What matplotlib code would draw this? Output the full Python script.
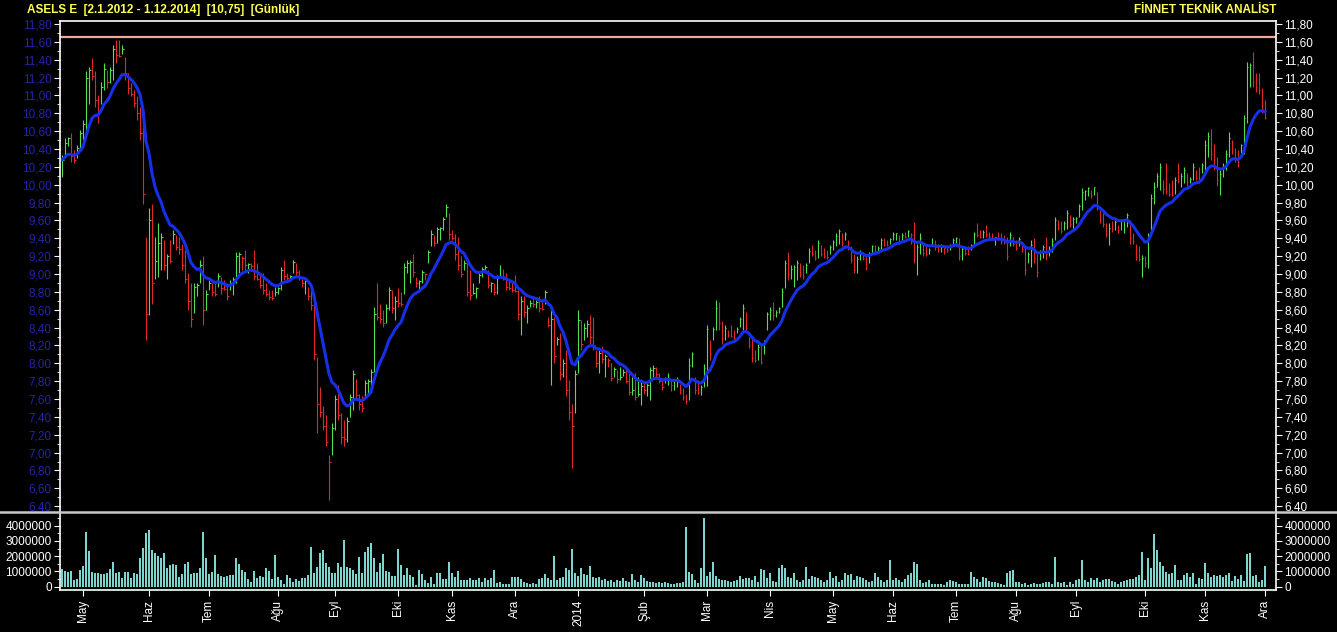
import numpy as np
import pandas as pd
import matplotlib
matplotlib.use('Agg')
import matplotlib.pyplot as plt
from matplotlib.lines import Line2D
from matplotlib.ticker import MultipleLocator, FuncFormatter, FixedLocator

plt.rcParams['font.family'] = ['Liberation Sans', 'DejaVu Sans']

# daily bars, ASELS E, late Apr 2013 - 1 Dec 2014
closes = [
    10.28, 10.47, 10.52, 10.32, 10.28, 10.41, 10.58, 10.68, 11.20, 11.28,
    11.22, 10.95, 10.80, 11.10, 11.30, 11.15, 11.28, 11.52, 11.45, 11.44,
    11.52, 11.25, 11.08, 11.02, 10.92, 10.80, 10.58, 9.90, 8.55, 9.60,
    8.90, 9.15, 9.35, 9.42, 9.10, 9.20, 9.15, 9.45, 9.30, 9.28,
    9.10, 8.95, 8.70, 8.50, 8.85, 8.88, 9.10, 8.60, 8.78, 8.90,
    8.80, 8.78, 8.98, 8.84, 8.83, 8.75, 8.90, 8.95, 9.20, 9.22,
    9.18, 9.10, 9.11, 9.09, 8.98, 8.95, 8.88, 8.82, 8.78, 8.74,
    8.73, 8.80, 8.84, 9.05, 8.98, 8.96, 8.98, 9.14, 9.02, 8.96,
    8.90, 8.92, 8.75, 8.65, 8.10, 7.55, 7.45, 7.30, 7.12, 6.90,
    7.28, 7.60, 7.42, 7.18, 7.15, 7.35, 7.62, 7.88, 7.65, 7.55,
    7.50, 7.78, 7.80, 7.90, 8.55, 8.52, 8.50, 8.45, 8.62, 8.82,
    8.62, 8.70, 8.68, 8.66, 9.08, 9.12, 9.14, 9.02, 8.90, 8.92,
    9.02, 9.00, 9.25, 9.45, 9.35, 9.50, 9.52, 9.62, 9.75, 9.45,
    9.40, 9.22, 9.10, 9.00, 9.12, 8.80, 8.76, 8.79, 8.84, 8.99,
    9.06, 9.08, 8.88, 8.90, 8.80, 8.96, 8.98, 8.95, 8.86, 8.84,
    8.82, 8.81, 8.55, 8.70, 8.58, 8.62, 8.68, 8.66, 8.69, 8.62,
    8.61, 8.80, 8.43, 8.50, 8.08, 8.27, 7.88, 8.00, 7.70, 7.45,
    7.30, 7.88, 8.48, 8.22, 8.40, 8.44, 8.30, 8.20, 8.00, 8.12,
    8.05, 8.08, 8.04, 7.84, 7.94, 7.82, 7.85, 7.90, 7.80, 7.68,
    7.70, 7.62, 7.66, 7.75, 7.70, 7.76, 7.92, 7.95, 7.88, 7.80,
    7.74, 7.82, 7.84, 7.76, 7.80, 7.82, 7.70, 7.62, 7.58, 7.98,
    8.10, 7.70, 7.68, 7.74, 7.95, 8.38, 8.10, 8.38, 8.62, 8.45,
    8.28, 8.40, 8.32, 8.31, 8.28, 8.39, 8.50, 8.62, 8.40, 8.20,
    8.06, 8.04, 8.18, 8.02, 8.22, 8.55, 8.60, 8.54, 8.58, 8.62,
    8.80, 9.12, 9.00, 9.06, 9.08, 9.12, 9.00, 8.98, 9.10, 9.26,
    9.22, 9.18, 9.35, 9.23, 9.20, 9.19, 9.30, 9.36, 9.43, 9.48,
    9.35, 9.45, 9.30, 9.16, 9.05, 9.17, 9.25, 9.18, 9.08, 9.22,
    9.31, 9.26, 9.29, 9.38, 9.33, 9.32, 9.39, 9.45, 9.46, 9.37,
    9.44, 9.41, 9.48, 9.44, 9.20, 9.30, 9.40, 9.24, 9.22, 9.27,
    9.33, 9.30, 9.28, 9.32, 9.29, 9.27, 9.32, 9.38, 9.40, 9.20,
    9.28, 9.24, 9.23, 9.32, 9.45, 9.44, 9.42, 9.47, 9.45, 9.42,
    9.40, 9.41, 9.40, 9.37, 9.36, 9.20, 9.44, 9.34, 9.29, 9.39,
    9.28, 9.05, 9.22, 9.32, 9.18, 9.02, 9.25, 9.30, 9.22, 9.28,
    9.37, 9.60, 9.52, 9.48, 9.57, 9.68, 9.56, 9.62, 9.63, 9.76,
    9.92, 9.93, 9.96, 9.88, 9.97, 9.76, 9.60, 9.56, 9.45, 9.52,
    9.50, 9.58, 9.49, 9.59, 9.60, 9.66, 9.40, 9.37, 9.19, 9.17,
    9.18, 9.12, 9.42, 9.85, 9.98, 10.10, 10.20, 9.95, 9.93, 9.90,
    9.89, 10.05, 10.04, 10.10, 10.16, 10.03, 10.07, 10.20, 10.08, 10.06,
    10.22, 10.45, 10.55, 10.35, 10.22, 10.05, 10.12, 10.20, 10.35, 10.52,
    10.48, 10.30, 10.25, 10.44, 10.75, 11.32, 11.34, 11.15, 11.10, 11.06,
    10.85, 10.75,
]

highs = [
    10.33, 10.52, 10.54, 10.58, 10.39, 10.45, 10.61, 10.72, 11.27, 11.32,
    11.42, 11.27, 11.00, 11.15, 11.36, 11.29, 11.32, 11.57, 11.62, 11.62,
    11.57, 11.43, 11.25, 11.14, 11.06, 10.99, 10.87, 10.69, 9.42, 9.74,
    9.79, 9.42, 9.57, 9.46, 9.38, 9.23, 9.38, 9.49, 9.44, 9.42,
    9.34, 9.27, 9.01, 8.90, 8.90, 8.90, 9.16, 9.20, 8.82, 8.93,
    8.90, 8.90, 9.01, 8.97, 8.93, 8.90, 8.93, 8.97, 9.25, 9.25,
    9.20, 9.27, 9.12, 9.12, 9.27, 9.12, 9.01, 9.01, 8.90, 8.82,
    8.82, 8.86, 8.85, 9.08, 9.16, 9.01, 8.99, 9.16, 9.12, 9.05,
    8.95, 8.93, 8.86, 8.82, 8.67, 8.07, 7.74, 7.52, 7.42, 6.97,
    7.33, 7.65, 7.76, 7.44, 7.37, 7.40, 7.66, 7.93, 7.83, 7.66,
    7.63, 7.81, 7.83, 7.94, 8.63, 8.90, 8.67, 8.60, 8.67, 8.86,
    8.82, 8.75, 8.84, 8.80, 9.12, 9.16, 9.16, 9.23, 8.97, 8.93,
    9.05, 9.01, 9.27, 9.49, 9.44, 9.53, 9.53, 9.64, 9.79, 9.68,
    9.49, 9.45, 9.42, 9.20, 9.16, 9.12, 9.05, 8.90, 8.86, 9.01,
    9.08, 9.10, 9.05, 8.91, 8.90, 8.99, 9.10, 9.06, 9.01, 8.93,
    8.91, 8.99, 8.82, 8.75, 8.75, 8.65, 8.71, 8.75, 8.71, 8.75,
    8.71, 8.82, 8.52, 8.63, 8.52, 8.30, 8.34, 8.05, 8.15, 7.81,
    7.55, 7.93, 8.60, 8.48, 8.45, 8.48, 8.54, 8.52, 8.15, 8.15,
    8.19, 8.10, 8.06, 8.00, 7.96, 7.93, 7.96, 7.94, 7.96, 7.89,
    7.85, 7.89, 7.85, 7.81, 7.79, 7.78, 7.96, 7.98, 7.96, 7.89,
    7.81, 7.85, 7.89, 7.83, 7.83, 7.85, 7.77, 7.72, 7.66, 8.06,
    8.13, 7.85, 7.81, 7.76, 7.99, 8.43, 8.26, 8.41, 8.71, 8.69,
    8.47, 8.43, 8.37, 8.43, 8.37, 8.41, 8.52, 8.67, 8.58, 8.30,
    8.28, 8.15, 8.22, 8.20, 8.26, 8.58, 8.63, 8.69, 8.60, 8.63,
    8.84, 9.16, 9.25, 9.10, 9.10, 9.16, 9.12, 9.10, 9.12, 9.29,
    9.33, 9.27, 9.38, 9.33, 9.29, 9.27, 9.33, 9.38, 9.46, 9.51,
    9.46, 9.47, 9.38, 9.31, 9.23, 9.20, 9.27, 9.25, 9.20, 9.25,
    9.33, 9.33, 9.31, 9.40, 9.40, 9.38, 9.40, 9.47, 9.46, 9.44,
    9.46, 9.47, 9.49, 9.46, 9.58, 9.34, 9.46, 9.34, 9.34, 9.29,
    9.40, 9.38, 9.34, 9.34, 9.31, 9.33, 9.34, 9.40, 9.42, 9.40,
    9.31, 9.29, 9.31, 9.34, 9.47, 9.57, 9.49, 9.49, 9.55, 9.47,
    9.46, 9.42, 9.47, 9.46, 9.44, 9.42, 9.47, 9.42, 9.38, 9.42,
    9.34, 9.31, 9.25, 9.38, 9.40, 9.23, 9.27, 9.33, 9.42, 9.31,
    9.40, 9.64, 9.61, 9.59, 9.59, 9.72, 9.66, 9.64, 9.64, 9.79,
    9.96, 9.94, 9.98, 9.94, 9.98, 9.92, 9.72, 9.68, 9.57, 9.57,
    9.59, 9.61, 9.55, 9.61, 9.61, 9.68, 9.61, 9.46, 9.34, 9.31,
    9.21, 9.20, 9.46, 9.90, 10.03, 10.13, 10.24, 10.05, 10.24, 10.02,
    10.05, 10.09, 10.24, 10.13, 10.20, 10.13, 10.09, 10.24, 10.17, 10.20,
    10.24, 10.50, 10.59, 10.63, 10.46, 10.31, 10.17, 10.24, 10.39, 10.59,
    10.50, 10.41, 10.39, 10.46, 10.78, 11.38, 11.36, 11.49, 11.25, 11.25,
    11.08, 10.95,
]

lows = [
    10.09, 10.33, 10.43, 10.26, 10.24, 10.30, 10.41, 10.50, 10.58, 10.91,
    11.17, 10.87, 10.69, 10.91, 11.06, 11.08, 11.14, 11.17, 11.36, 11.43,
    11.47, 11.17, 11.02, 10.99, 10.87, 10.73, 10.50, 9.79, 8.26, 8.54,
    8.67, 8.95, 8.97, 9.05, 9.05, 8.95, 9.12, 9.34, 9.27, 9.22,
    9.05, 8.90, 8.60, 8.41, 8.56, 8.75, 8.90, 8.43, 8.60, 8.82,
    8.75, 8.75, 8.86, 8.78, 8.82, 8.71, 8.82, 8.77, 8.90, 9.01,
    9.05, 9.05, 9.01, 9.03, 8.93, 8.93, 8.84, 8.78, 8.75, 8.71,
    8.71, 8.75, 8.78, 8.82, 8.93, 8.93, 8.93, 9.01, 8.97, 8.93,
    8.86, 8.78, 8.71, 8.60, 8.04, 7.22, 7.40, 7.25, 7.07, 6.47,
    6.97, 7.25, 7.37, 7.10, 7.07, 7.12, 7.40, 7.48, 7.59, 7.48,
    7.46, 7.63, 7.66, 7.70, 7.90, 8.49, 8.45, 8.41, 8.45, 8.60,
    8.56, 8.49, 8.63, 8.64, 8.78, 9.01, 8.90, 8.97, 8.86, 8.82,
    8.90, 8.93, 9.12, 9.31, 9.31, 9.35, 9.38, 9.49, 9.64, 9.38,
    9.38, 9.16, 9.05, 8.97, 9.05, 8.75, 8.71, 8.78, 8.73, 8.90,
    8.97, 9.01, 8.84, 8.80, 8.77, 8.78, 8.97, 8.93, 8.82, 8.82,
    8.80, 8.80, 8.49, 8.32, 8.52, 8.45, 8.63, 8.63, 8.62, 8.58,
    8.60, 8.67, 8.41, 7.76, 8.00, 8.21, 7.81, 7.85, 7.63, 7.37,
    6.83, 7.44, 7.89, 8.15, 8.26, 8.30, 8.22, 8.15, 7.96, 7.89,
    8.00, 7.85, 7.96, 7.80, 7.85, 7.78, 7.81, 7.86, 7.78, 7.64,
    7.64, 7.59, 7.63, 7.53, 7.66, 7.63, 7.59, 7.85, 7.85, 7.78,
    7.70, 7.78, 7.76, 7.69, 7.70, 7.74, 7.66, 7.59, 7.55, 7.59,
    7.96, 7.66, 7.66, 7.64, 7.74, 7.75, 8.04, 8.26, 8.37, 8.37,
    8.22, 8.26, 8.30, 8.29, 8.26, 8.34, 8.41, 8.37, 8.36, 8.17,
    8.02, 8.02, 8.04, 7.99, 8.11, 8.37, 8.49, 8.49, 8.52, 8.56,
    8.63, 8.84, 8.93, 8.95, 8.86, 8.93, 8.97, 8.95, 9.01, 9.12,
    9.20, 9.16, 9.18, 9.20, 9.18, 9.17, 9.23, 9.27, 9.31, 9.34,
    9.31, 9.38, 9.27, 9.12, 9.01, 9.01, 9.16, 9.16, 9.05, 9.12,
    9.23, 9.23, 9.25, 9.27, 9.31, 9.31, 9.34, 9.38, 9.38, 9.34,
    9.38, 9.40, 9.42, 9.34, 9.12, 8.99, 9.23, 9.20, 9.20, 9.23,
    9.31, 9.27, 9.25, 9.25, 9.23, 9.25, 9.27, 9.31, 9.31, 9.16,
    9.16, 9.21, 9.21, 9.27, 9.34, 9.42, 9.40, 9.40, 9.42, 9.40,
    9.38, 9.33, 9.38, 9.34, 9.34, 9.16, 9.31, 9.31, 9.27, 9.31,
    9.25, 8.99, 9.12, 9.08, 9.12, 8.97, 9.16, 9.18, 9.16, 9.20,
    9.25, 9.38, 9.49, 9.46, 9.49, 9.51, 9.53, 9.49, 9.57, 9.64,
    9.72, 9.83, 9.87, 9.85, 9.88, 9.72, 9.57, 9.53, 9.42, 9.33,
    9.47, 9.49, 9.46, 9.49, 9.46, 9.53, 9.34, 9.34, 9.16, 9.15,
    8.97, 9.08, 9.07, 9.49, 9.79, 9.98, 9.94, 9.90, 9.90, 9.87,
    9.87, 9.90, 10.02, 9.98, 10.02, 9.99, 10.02, 10.05, 10.05, 10.03,
    10.13, 10.17, 10.31, 10.28, 10.17, 9.99, 9.89, 10.09, 10.17, 10.31,
    10.35, 10.26, 10.20, 10.33, 10.35, 10.69, 11.10, 11.10, 11.04, 11.02,
    10.80, 10.74,
]

# volume in millions of shares
volumes_m = [
    1.16, 1.03, 0.98, 1.03, 0.44, 0.50, 1.09, 1.36, 3.61, 2.34,
    0.98, 0.92, 0.87, 0.83, 0.81, 0.87, 1.16, 1.60, 0.92, 0.98,
    0.57, 0.98, 0.98, 0.59, 0.87, 0.83, 1.90, 2.56, 3.54, 3.72,
    2.40, 2.19, 2.01, 1.90, 2.19, 1.25, 1.42, 1.49, 1.42, 0.66,
    0.83, 1.46, 1.64, 0.83, 0.87, 0.87, 1.25, 3.61, 1.90, 0.83,
    0.98, 2.08, 0.81, 0.70, 0.66, 0.72, 0.77, 0.77, 1.90, 1.49,
    1.09, 0.98, 0.50, 0.33, 1.03, 0.59, 0.68, 0.66, 1.20, 1.03,
    0.50, 2.08, 0.66, 0.44, 0.17, 0.77, 0.59, 0.33, 0.50, 0.39,
    0.59, 0.55, 0.77, 2.62, 0.87, 1.31, 2.19, 2.40, 1.53, 1.31,
    0.87, 0.87, 1.53, 1.31, 3.06, 1.31, 1.20, 1.09, 0.83, 1.97,
    0.87, 2.30, 2.62, 2.84, 1.86, 0.98, 1.53, 2.12, 1.03, 0.98,
    0.72, 0.72, 2.47, 1.42, 0.77, 1.20, 0.77, 0.66, 0.11, 1.09,
    0.83, 0.44, 0.22, 0.66, 0.15, 0.87, 0.87, 0.50, 0.50, 1.64,
    0.87, 0.66, 1.03, 0.44, 0.44, 0.44, 0.55, 0.44, 0.44, 0.55,
    0.33, 0.55, 0.44, 0.59, 1.09, 0.22, 0.28, 0.15, 0.15, 0.15,
    0.66, 0.66, 0.66, 0.50, 0.33, 0.22, 0.17, 0.26, 0.15, 0.50,
    0.55, 0.81, 0.55, 0.44, 2.03, 0.44, 0.59, 0.66, 1.25, 1.09,
    2.45, 0.87, 0.72, 1.25, 0.81, 0.77, 1.38, 0.66, 0.59, 0.61,
    0.44, 0.50, 0.39, 0.44, 0.33, 0.44, 0.37, 0.59, 0.37, 0.33,
    0.81, 0.44, 0.28, 0.77, 0.59, 0.37, 0.33, 0.33, 0.22, 0.33,
    0.22, 0.30,
    0.22, 0.17, 0.20, 0.26, 0.26, 0.33, 3.93, 0.98, 0.81, 0.44,
    0.26, 1.25, 4.48, 0.72, 0.98, 1.64, 0.72, 0.50, 0.44, 0.44,
    0.37, 0.28, 0.39, 0.44, 0.72, 0.50, 0.59, 0.59, 0.44, 0.72,
    0.33, 1.16, 1.09, 0.59, 0.87, 0.37, 0.33, 1.20, 1.42, 1.20,
    0.66, 0.55, 0.87, 0.44, 0.33, 0.44, 1.31, 0.50, 0.72, 0.66,
    0.59, 0.44, 0.33, 0.44, 0.98, 0.59, 0.72, 0.33, 0.44, 0.87,
    0.77, 0.83, 0.44, 0.72, 0.66, 0.59, 0.44, 0.28, 0.37, 0.87,
    0.66, 0.44, 0.33, 0.44, 1.75, 0.44, 0.59, 0.44, 0.33, 0.50,
    0.77, 0.87, 1.64, 1.46, 0.44, 0.22, 0.33, 0.44, 0.15, 0.17,
    0.15, 0.17, 0.11, 0.28, 0.42, 0.37, 0.28, 0.15, 0.17, 0.15,
    0.15, 0.98, 0.66, 0.50, 0.28, 0.66, 0.59, 0.37, 0.33, 0.33,
    0.22, 0.15, 0.11, 0.87, 1.05, 1.09, 0.33, 0.28, 0.15, 0.24,
    0.11, 0.17, 0.26, 0.17, 0.20, 0.24, 0.28, 0.33, 0.15, 1.97,
    0.28, 0.22, 0.28, 0.11, 0.33, 0.15, 0.44, 0.50, 1.75, 0.44,
    0.33, 0.59, 0.44, 0.55, 0.33, 0.44, 0.50, 0.50, 0.37, 0.33,
    0.15, 0.28, 0.37, 0.44, 0.50, 0.50, 0.66, 0.77, 2.30, 0.44,
    1.86, 1.20, 3.43, 2.40, 1.64, 1.38, 0.98, 0.81, 0.92, 1.42,
    0.44, 0.44, 0.77, 0.87, 0.66, 0.87, 0.15, 0.55, 0.50, 1.53,
    0.87, 0.66, 0.77, 0.72, 0.77, 0.66, 0.77, 0.87, 0.37, 0.72,
    0.50, 0.77, 0.37, 2.12, 2.19, 0.72, 0.77, 0.33, 0.44, 1.38,
]

month_pos = [7, 29, 49, 72, 91, 112, 130, 151, 172, 194,
             215, 236, 257, 277, 298, 318, 338, 361, 381, 401]
month_labels = ['May', 'Haz', 'Tem', 'Ağu', 'Eyl', 'Eki', 'Kas', 'Ara', '2014', 'Şub',
                'Mar', 'Nis', 'May', 'Haz', 'Tem', 'Ağu', 'Eyl', 'Eki', 'Kas', 'Ara']

resistance = 11.65
ma_span = 12

assert len(closes) == len(highs) == len(lows) == len(volumes_m), \
    (len(closes), len(highs), len(lows), len(volumes_m))

c = np.array(closes)
h = np.array(highs)
l = np.array(lows)
x = np.arange(len(c))
prev = np.r_[c[0] - 1, c[:-1]]
bar_colors = np.where(c >= prev, '#52e052', '#e02828')
# exponential moving average of the closes
ma = pd.Series(c).ewm(span=ma_span, adjust=False).mean()

W, H = 1337, 632
fig = plt.figure(figsize=(W / 100, H / 100), dpi=100, facecolor='black')
ax = fig.add_axes([60 / W, 1 - 512 / H, 1216 / W, 491 / H], facecolor='black')
axv = fig.add_axes([60 / W, 1 - 590 / H, 1216 / W, 78 / H], facecolor='black', sharex=ax)

# price panel
ax.vlines(x, l, h, colors=bar_colors, lw=0.8)
ax.hlines(c, x, x + 0.5, colors=bar_colors, lw=0.8)
ax.plot(x, ma, color='#1530e8', lw=2.2)
ax.axhline(resistance, color='#f2a898', lw=1.6)

ax.set_xlim(-0.67, 404.67)
ax.set_ylim(6.335, 11.834)
ax.yaxis.set_major_locator(MultipleLocator(0.2))
ax.yaxis.set_minor_locator(MultipleLocator(0.1))
ax.yaxis.set_major_formatter(FuncFormatter(lambda v, p: f'{v:.2f}'.replace('.', ',')))
ax.tick_params(axis='y', which='both', left=True, right=True, labelleft=True,
               labelright=True, colors='white', labelsize=8.5, direction='out')
ax.tick_params(axis='y', which='major', length=4, pad=2)
ax.tick_params(axis='y', which='minor', length=2)
ax.tick_params(axis='x', which='both', bottom=False, labelbottom=False)
for t in ax.yaxis.get_major_ticks():
    t.label1.set_color('#2424a8')
    t.label2.set_color('white')
for s in ['left', 'right', 'top']:
    ax.spines[s].set_color('white')
    ax.spines[s].set_linewidth(1.2)
ax.spines['bottom'].set_visible(False)

# volume panel
axv.bar(x, np.array(volumes_m) * 1e6, width=0.4, color='#7cd6ce')
axv.set_ylim(-0.22e6, 4.9e6)
axv.yaxis.set_major_locator(FixedLocator([0, 1e6, 2e6, 3e6, 4e6]))
axv.yaxis.set_minor_locator(MultipleLocator(0.5e6))
axv.yaxis.set_major_formatter(FuncFormatter(lambda v, p: f'{int(round(v))}'))
axv.tick_params(axis='y', which='both', left=True, right=True, labelleft=True,
                labelright=True, colors='white', labelsize=8.5, direction='out')
axv.tick_params(axis='y', which='major', length=4, pad=2)
axv.tick_params(axis='y', which='minor', length=2)
axv.set_xticks(month_pos)
axv.set_xticklabels(month_labels, rotation=90, color='white', fontsize=8.5)
axv.tick_params(axis='x', colors='white', length=4, pad=3)
for s in ['left', 'right', 'bottom']:
    axv.spines[s].set_color('white')
    axv.spines[s].set_linewidth(1.2)
axv.spines['top'].set_visible(False)

# panel separator across the whole width
fig.add_artist(Line2D([0, 1], [1 - 512 / H, 1 - 512 / H], transform=fig.transFigure,
                      color='#c8c8c8', lw=1.8))

fig.text(27 / W, 1 - 10 / H, 'ASELS E  [2.1.2012 - 1.12.2014]  [10,75]  [Günlük]',
         color='#ffff55', fontsize=8.5, fontweight='bold', ha='left', va='center')
fig.text(1276 / W, 1 - 10 / H, 'FİNNET TEKNİK ANALİST',
         color='#ffff55', fontsize=8.5, fontweight='bold', ha='right', va='center')

fig.savefig('out.png', dpi=100, facecolor='black')
